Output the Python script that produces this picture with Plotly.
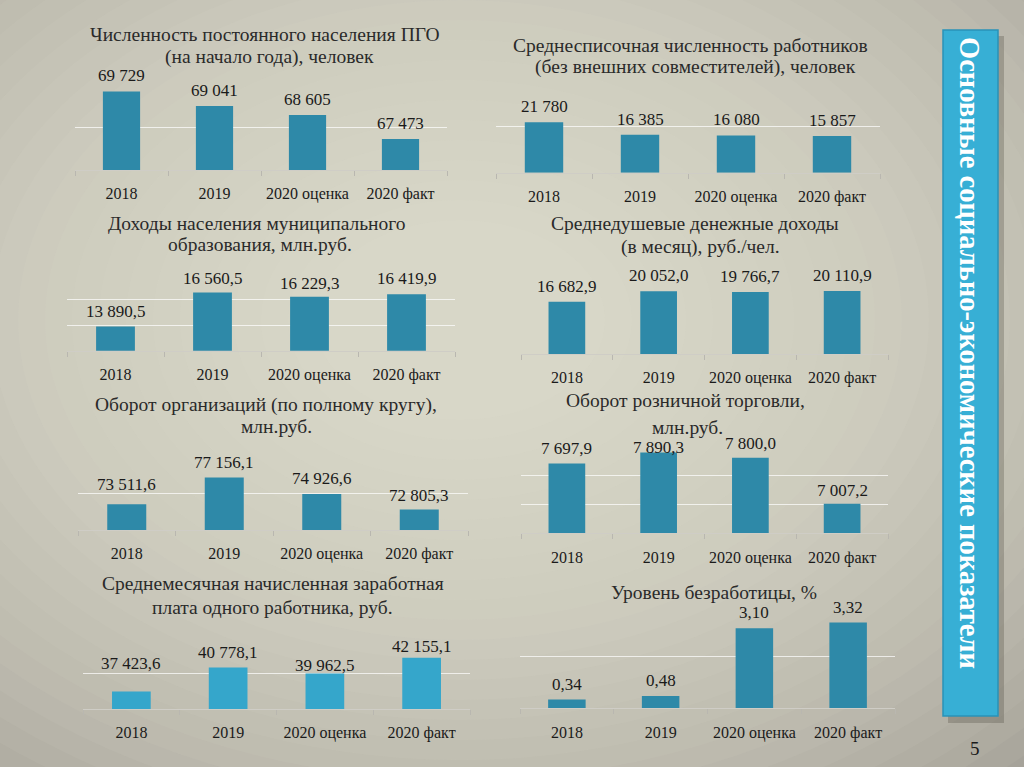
import plotly.graph_objects as go

# ---------------- data ----------------
categories = ["2018", "2019", "2020 оценка", "2020 факт"]
population = [69729, 69041, 68605, 67473]
workers = [21780, 16385, 16080, 15857]
income_total = [13890.5, 16560.5, 16229.3, 16419.9]
income_per_capita = [16682.9, 20052.0, 19766.7, 20110.9]
turnover_org = [73511.6, 77156.1, 74926.6, 72805.3]
retail_turnover = [7697.9, 7890.3, 7800.0, 7007.2]
avg_wage = [37423.6, 40778.1, 39962.5, 42155.1]
unemployment = [0.34, 0.48, 3.10, 3.32]

titles = [
    ["Численность постоянного населения ПГО", "(на начало года), человек"],
    ["Среднесписочная численность работников", "(без внешних совместителей), человек"],
    ["Доходы населения муниципального", "образования, млн.руб."],
    ["Среднедушевые денежные доходы", "(в месяц), руб./чел."],
    ["Оборот организаций (по полному кругу),", "млн.руб."],
    ["Оборот розничной торговли,", "млн.руб."],
    ["Среднемесячная начисленная заработная", "плата одного работника, руб."],
    ["Уровень безработицы, %"],
]
side_title = "Основные социально-экономические показатели"
page_number = "5"

# ---------------- layout config ----------------
W, H = 1024, 767
BAR = "#2E89A8"
BAR_LIGHT = "#35A6CB"
SERIF = "Liberation Serif"

charts = [
    dict(values=population, dec=0, yrange=[66000, 70000], grid=[68000, 70000],
         box=(75, 85.7, 447, 170), tpos=[(265, 35), (269, 57)], color=BAR,
         shift=[4, 4, 4, 4]),
    dict(values=workers, dec=0, yrange=[0, 40000], grid=[20000, 40000],
         box=(496, 80, 880, 172.7), tpos=[(690, 45), (695, 67)], color=BAR,
         shift=[4, 4, 4, 4]),
    dict(values=income_total, dec=1, yrange=[12000, 18000], grid=[14000, 16000, 18000],
         box=(67, 274, 455, 350.7), tpos=[(257, 223), (260, 244)], color=BAR,
         shift=[4, 2, 2, 4]),
    dict(values=income_per_capita, dec=1, yrange=[0, 30000], grid=[30000],
         box=(521, 260, 888, 354), tpos=[(695, 223), (700, 247)], color=BAR,
         shift=[4, 4, 4, 4]),
    dict(values=turnover_org, dec=1, yrange=[70000, 80000], grid=[75000, 80000],
         box=(78, 456.7, 468, 530), tpos=[(266, 405), (276, 426)], color=BAR,
         shift=[8, 4, 4, 2]),
    dict(values=retail_turnover, dec=1, yrange=[6500, 8000], grid=[7000, 7500],
         box=(521, 446, 888, 533.3), tpos=[(685, 400), (687, 427)], color=BAR,
         shift=[4, -7, 3, 2]),
    dict(values=avg_wage, dec=1, yrange=[35000, 45000], grid=[40000, 45000],
         box=(83, 637.3, 470, 709), tpos=[(273, 583), (272, 607)], color=BAR_LIGHT,
         shift=[17, 4, -4, 0]),
    dict(values=unemployment, dec=2, yrange=[0, 4], grid=[2, 4],
         box=(520, 605, 895, 708.3), tpos=[(714, 592)], color=BAR,
         shift=[4, 4, 4, 4]),
]


def ru(v, d):
    s = f"{v:,.{d}f}"
    return s.replace(",", " ").replace(".", ",")


fig = go.Figure()
annotations = []
shapes = []

# background vignette (soft light centre)
for k in range(26):
    rx = 820 - k * 27
    ry = 600 - k * 20
    cx, cy = 460, 320
    shapes.append(dict(type="circle", xref="paper", yref="paper",
                       x0=(cx - rx) / W, x1=(cx + rx) / W,
                       y0=1 - (cy + ry) / H, y1=1 - (cy - ry) / H,
                       fillcolor="#F4F0E4", opacity=0.06, line=dict(width=0),
                       layer="below"))

for i, c in enumerate(charts, 1):
    xa = "x" if i == 1 else f"x{i}"
    ya = "y" if i == 1 else f"y{i}"
    xk = "xaxis" if i == 1 else f"xaxis{i}"
    yk = "yaxis" if i == 1 else f"yaxis{i}"
    x0, y0, x1, y1 = c["box"]
    fig.add_trace(go.Bar(x=categories, y=c["values"], xaxis=xa, yaxis=ya,
                         marker=dict(color=c["color"], line=dict(width=0)),
                         showlegend=False, hoverinfo="skip"))
    fig.layout[xk] = dict(domain=[x0 / W, x1 / W], anchor=ya, type="category",
                          range=[-0.5, len(categories) - 0.5], autorange=False,
                          showline=True, linecolor="#CFCDC6", linewidth=1,
                          ticks="outside", tickson="boundaries", ticklen=5,
                          tickcolor="#B9B7B0", tickangle=0,
                          tickfont=dict(family=SERIF, size=16, color="#1A1A1A"),
                          ticklabelstandoff=9, showgrid=False, fixedrange=True)
    fig.layout[yk] = dict(domain=[1 - y1 / H, 1 - y0 / H], anchor=xa,
                          range=c["yrange"], autorange=False,
                          tickmode="array", tickvals=c["grid"],
                          showgrid=True, gridcolor="rgba(255,255,255,0.7)",
                          gridwidth=1, showticklabels=False, zeroline=False,
                          showline=False, fixedrange=True)
    for j, v in enumerate(c["values"]):
        annotations.append(dict(x=j, y=v, xref=xa, yref=ya, text=ru(v, c["dec"]),
                                showarrow=False, xanchor="center", yanchor="bottom",
                                yshift=c["shift"][j],
                                font=dict(family=SERIF, size=17, color="#1A1A1A")))
    for line, (tx, ty) in zip(titles[i - 1], c["tpos"]):
        annotations.append(dict(x=tx / W, y=1 - ty / H, xref="paper", yref="paper",
                                text=line, showarrow=False, xanchor="center",
                                yanchor="middle",
                                font=dict(family=SERIF, size=19.5, color="#2A2A2A")))

# side banner
shapes.append(dict(type="rect", xref="paper", yref="paper",
                   x0=948 / W, x1=1004 / W, y0=1 - 723 / H, y1=1 - 36 / H,
                   fillcolor="rgba(60,55,45,0.25)", line=dict(width=0)))
shapes.append(dict(type="rect", xref="paper", yref="paper",
                   x0=943 / W, x1=998 / W, y0=1 - 716 / H, y1=1 - 30 / H,
                   fillcolor="#37AFD5", line=dict(color="#2A93B8", width=1.5)))
annotations.append(dict(x=970 / W, y=1 - 353 / H, xref="paper", yref="paper",
                        text="<b>" + side_title + "</b>", showarrow=False, textangle=90,
                        xanchor="center", yanchor="middle",
                        font=dict(family=SERIF, size=28.5, color="white")))
annotations.append(dict(x=975 / W, y=1 - 748 / H, xref="paper", yref="paper",
                        text=page_number, showarrow=False,
                        xanchor="center", yanchor="middle",
                        font=dict(family=SERIF, size=19, color="#1A1A1A")))

fig.update_layout(width=W, height=H, margin=dict(l=0, r=0, t=0, b=0),
                  paper_bgcolor="#A6A39A", plot_bgcolor="rgba(0,0,0,0)",
                  font=dict(family=SERIF),
                  bargap=0.6, annotations=annotations, shapes=shapes)

fig.write_html("out.html", config={"displayModeBar": False},
               post_script="document.body.style.margin='0';document.body.style.background='#A6A39A';")
